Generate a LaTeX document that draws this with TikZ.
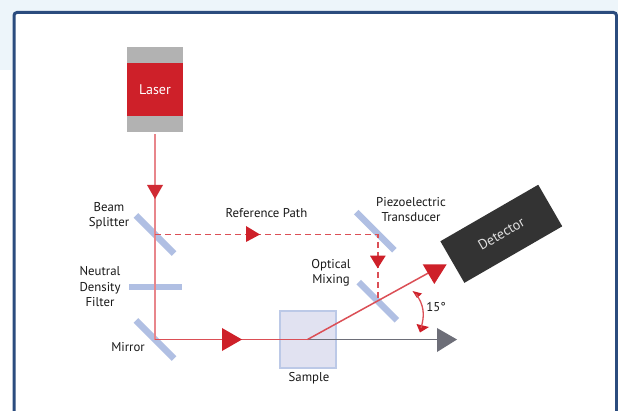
\documentclass[tikz,border=0pt]{standalone}
\usepackage{fontspec}
\setmainfont{PT Sans}
\definecolor{laserred}{HTML}{CE2029}
\definecolor{paleblue}{HTML}{B0BFE3}
\definecolor{samplecol}{HTML}{E1E2F1}
\definecolor{framecol}{HTML}{2B4C7E}
\definecolor{pagecol}{HTML}{EDF5FA}
\definecolor{beampale}{HTML}{E8868B}
\definecolor{beamred}{HTML}{DB4F56}
\definecolor{graybeam}{HTML}{6D6E78}
\tikzset{
  mirror/.style={fill=paleblue,minimum width=#1,minimum height=6.5,inner sep=0pt},
  lbl/.style={align=center,font=\fontsize{12.8}{15.5}\selectfont,text=black!90,inner sep=0pt},
  beam/.style={draw=beamred,line width=1.5pt},
  refbeam/.style={beam,line width=1.6pt,dash pattern=on 6pt off 4pt}
}

\begin{document}
\begin{tikzpicture}[x=1pt,y=-1pt]
      \useasboundingbox (0,0) rectangle (618,411);
      \fill[pagecol] (0,0) rectangle (618,70);
      \draw[framecol,line width=3pt,fill=white,rounded corners=3pt] (14,12.5) rectangle (616.5,440);

      % laser
      \fill[black!30] (127,47) rectangle (183,132.5);
      \node[fill=laserred,minimum width=56,minimum height=53,inner sep=0pt,text=white,font=\fontsize{14}{16}\selectfont] (laser) at (155,90) {Laser};

      % mirrors and filter
      \node[mirror=54,rotate=-45] (splitter) at (155,234.5) {};
      \node[mirror=53] (filter) at (155,287) {};
      \node[mirror=54,rotate=-45] (turn) at (155,339.5) {};
      \node[mirror=54,rotate=-45] (piezo) at (375.3,231.2) {};
      \node[mirror=54,rotate=-45] (mixing) at (377.8,301.2) {};

      % sample and detector
      \node[draw=paleblue!85,fill=samplecol,line width=2pt,minimum size=56,inner sep=0pt] (sample) at (307.5,339.5) {};
      \node[fill=black!80,minimum width=113,minimum height=48,inner sep=0pt,rotate=30,text=black!12,font=\fontsize{14}{16}\selectfont] (detector) at (501.3,233.8) {Detector};

      \coordinate (laserout) at (155,134.5);
      \coordinate (refturn) at (377.7,234.5);
      \coordinate (refend) at (377.7,300);
      \coordinate (graytip) at (440,339.5);
      \coordinate (redtip) at (432,271);

      % beams
      \draw[draw=beampale,line width=1.5pt] (laserout) -- (turn.center);
      \draw[graybeam,line width=1.5pt] (sample.center) -- (graytip);
      \draw[beam] (turn.center) -- (sample.center);
      \draw[beam] (sample.center) -- (redtip);
      \draw[refbeam] (splitter.center) -- (refturn) -- (refend);

      % arrowheads
      \fill[laserred!95!white] (147,185) -- (163,185) -- (155,199) -- cycle;
      \fill[laserred] (246,226) -- (260,234.5) -- (246,242) -- cycle;
      \fill[laserred] (370,255.7) -- (385.7,255.7) -- (377.7,268.3) -- cycle;
      \fill[laserred] (222,328) -- (242,339.5) -- (222,351) -- cycle;
      \fill[laserred] (422.7,264.3) -- (446.7,264.3) -- (434.3,284) -- cycle;
      \fill[graybeam] (437,328) -- (457,339.5) -- (437,352) -- cycle;

      % angle
      \fill[laserred] (412.5,291) -- (422,293.5) -- (417,298) -- cycle;
      \fill[laserred] (420,332.5) -- (416.5,324) -- (429,327) -- cycle;
      \draw[beamred,line width=1.3pt] (416,294) .. controls (424,305) and (425,315) .. (421,328);

      % labels
      \node[lbl] (splitterlbl) at (109,216) {Beam\\Splitter};
      \node[lbl] (filterlbl) at (100,287) {Neutral\\Density\\Filter};
      \node[lbl] (turnlbl) at (128,347.5) {Mirror};
      \node[lbl] (reflbl) at (266.5,213) {Reference Path};
      \node[lbl] (piezolbl) at (411,209.5) {Piezoelectric\\Transducer};
      \node[lbl] (mixinglbl) at (331,273) {Optical\\Mixing};
      \node[lbl] (samplelbl) at (309,378) {Sample};
      \node[lbl] (anglelbl) at (436,307.5) {15°};
    \end{tikzpicture}
\end{document}
